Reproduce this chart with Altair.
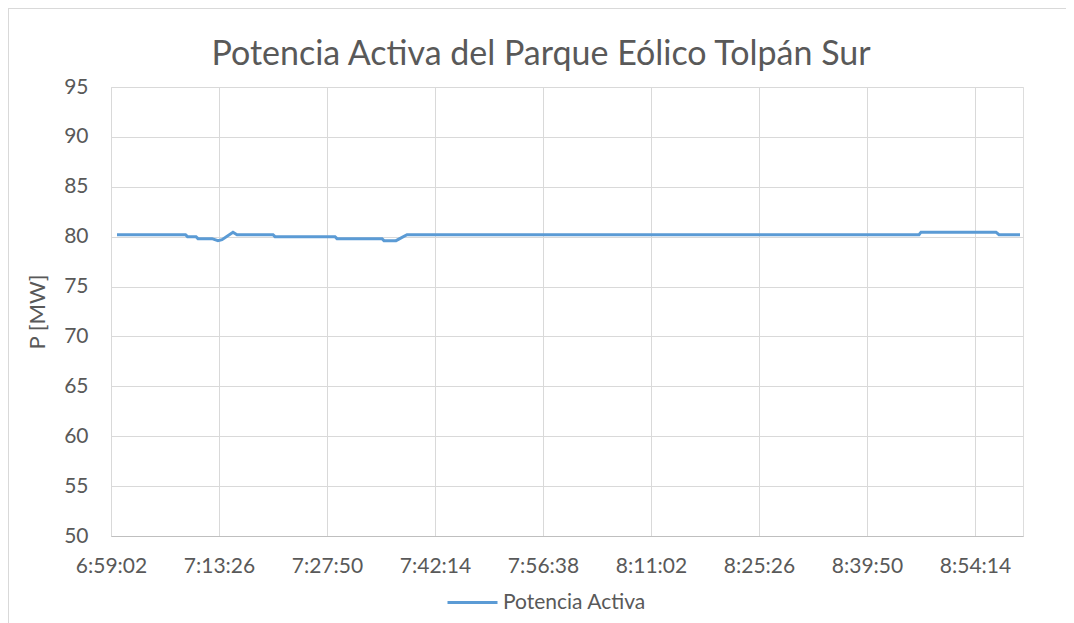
import altair as alt
import pandas as pd

# Breakpoints of the series (time, active power in MW)
times = ["6:59:50", "7:08:58", "7:09:14", "7:10:22", "7:10:38", "7:12:30", "7:13:18",
         "7:13:50", "7:15:18", "7:15:50", "7:20:38", "7:20:54", "7:28:54", "7:29:10",
         "7:35:10", "7:35:26", "7:37:02", "7:38:30", "8:46:46", "8:47:02", "8:57:02",
         "8:57:26", "9:00:14"]
power = [80.2, 80.2, 80.0, 80.0, 79.8, 79.8, 79.6,
         79.7, 80.45, 80.2, 80.2, 80.0, 80.0, 79.8,
         79.8, 79.6, 79.6, 80.2, 80.2, 80.45, 80.45,
         80.2, 80.2]

start_label = "6:59:02"
tick_labels = ["6:59:02", "7:13:26", "7:27:50", "7:42:14", "7:56:38",
               "8:11:02", "8:25:26", "8:39:50", "8:54:14"]
y_ticks = [50, 55, 60, 65, 70, 75, 80, 85, 90, 95]


def to_sec(t):
    h, m, s = (int(v) for v in t.split(":"))
    return h * 3600 + m * 60 + s


t0 = to_sec(start_label)
df = pd.DataFrame({
    "t": [to_sec(t) - t0 for t in times],
    "P": power,
    "serie": "Potencia Activa",
})
tick_vals = [to_sec(t) - t0 for t in tick_labels]
x_end = 7296

label_expr = (
    "floor((datum.value + %d) / 3600) + ':' + "
    "(floor(((datum.value + %d) %% 3600) / 60) < 10 ? '0' : '') + floor(((datum.value + %d) %% 3600) / 60) + ':' + "
    "(((datum.value + %d) %% 60) < 10 ? '0' : '') + ((datum.value + %d) %% 60)"
) % (t0, t0, t0, t0, t0)

FONT = "Lato"
GRAY = "#595959"
FS = 21

line = alt.Chart(df).mark_line(strokeWidth=3, interpolate="linear").encode(
    x=alt.X("t:Q",
            scale=alt.Scale(domain=[0, x_end], nice=False, zero=False),
            axis=alt.Axis(values=tick_vals, labelExpr=label_expr, title=None,
                          grid=True, gridColor="#D9D9D9", domainColor="#BFBFBF",
                          ticks=False, labelFontSize=FS, labelColor=GRAY,
                          labelFont=FONT, labelPadding=19, labelFlush=False)),
    y=alt.Y("P:Q",
            scale=alt.Scale(domain=[50, 95], nice=False, zero=False),
            axis=alt.Axis(values=y_ticks, title="P [MW]", grid=True,
                          gridColor="#D9D9D9", domain=False, ticks=False,
                          labelFontSize=FS, labelColor=GRAY, labelFont=FONT,
                          labelPadding=23, titleFont=FONT, titleFontSize=22,
                          titleColor=GRAY, titleFontWeight="normal",
                          titlePadding=14)),
    color=alt.Color("serie:N",
                    scale=alt.Scale(range=["#5B9BD5"]),
                    legend=alt.Legend(title=None, orient="none",
                                      legendX=335, legendY=489,
                                      symbolType="stroke", symbolSize=2500,
                                      symbolStrokeWidth=3, labelFontSize=FS,
                                      labelFont=FONT, labelColor=GRAY,
                                      labelOffset=4)),
)

frame_src = alt.Data(values=[{"k": 0}])
frame_top = alt.Chart(frame_src).mark_rule(color="#D9D9D9", strokeWidth=1).encode(
    x=alt.value(-103), x2=alt.value(1000), y=alt.value(-78.5))
frame_left = alt.Chart(frame_src).mark_rule(color="#D9D9D9", strokeWidth=1).encode(
    x=alt.value(-102.5), y=alt.value(-79), y2=alt.value(600))

chart = alt.layer(frame_top, frame_left, line).properties(
    width=912,
    height=449,
    padding={"left": 103, "top": 79, "right": 43, "bottom": 87},
    autosize=alt.AutoSizeParams(type="none"),
    title=alt.TitleParams("Potencia Activa del Parque Eólico Tolpán Sur",
                          font=FONT, fontSize=34, fontWeight="normal",
                          color=GRAY, anchor="middle", dx=-26, offset=0,
                          baseline="alphabetic", dy=91),
).configure_view(stroke=None).configure(background="white")

chart.save("out.html", embed_options={"renderer": "svg", "actions": False})
